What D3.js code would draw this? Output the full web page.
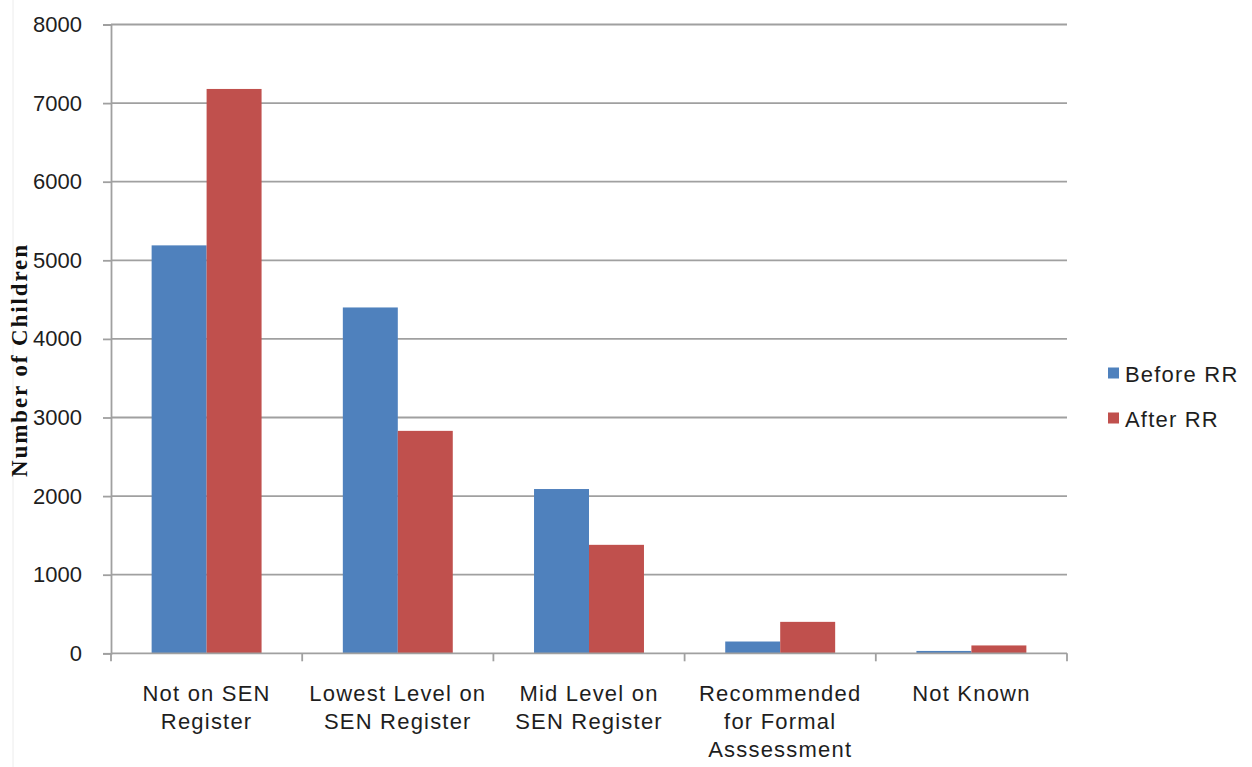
<!DOCTYPE html>
<html>
<head>
<meta charset="utf-8">
<script src="https://cdn.jsdelivr.net/npm/d3@7"></script>
<style>
  html, body { margin: 0; padding: 0; background: #fff; }
  svg { display: block; }
  text { font-family: "Liberation Sans", Arial, sans-serif; fill: #1e1e1e; }
</style>
</head>
<body>
<svg id="chart" width="1252" height="767"></svg>
<script>
// Children by SEN status, before and after Reading Recovery
const categories = [
  "Not on SEN Register",
  "Lowest Level on SEN Register",
  "Mid Level on SEN Register",
  "Recommended for Formal Asssessment",
  "Not Known"
];
const categoryLines = [
  ["Not on SEN", "Register"],
  ["Lowest Level on", "SEN Register"],
  ["Mid Level on", "SEN Register"],
  ["Recommended", "for Formal", "Asssessment"],
  ["Not Known"]
];
const seriesNames = ["Before RR", "After RR"];
const beforeRR = [5190, 4400, 2090, 150, 30];
const afterRR = [7180, 2830, 1380, 400, 100];
const seriesColors = ["#4f81bd", "#c0504d"];
const yTicks = [0, 1000, 2000, 3000, 4000, 5000, 6000, 7000, 8000];
const yTitle = "Number of Children";

const svg = d3.select("#chart");
const plot = { left: 111, right: 1067, top: 24.5, bottom: 653.3 };
const gridColor = "#a0a0a0";

const y = d3.scaleLinear().domain([0, 8000]).range([plot.bottom, plot.top]);
const x = d3.scaleBand()
  .domain(categories)
  .range([plot.left, plot.right])
  .paddingInner(0.425)
  .paddingOuter(0.2125);
const xs = d3.scaleBand().domain(seriesNames).range([0, x.bandwidth()]);

// faint frame edge on the left
svg.append("line")
  .attr("x1", 13).attr("x2", 13).attr("y1", 0).attr("y2", 767)
  .attr("stroke", "#ececec").attr("stroke-width", 1);

// horizontal gridlines
svg.append("g")
  .selectAll("line")
  .data(yTicks.filter(d => d > 0))
  .join("line")
  .attr("x1", plot.left).attr("x2", plot.right)
  .attr("y1", d => y(d)).attr("y2", d => y(d))
  .attr("stroke", gridColor).attr("stroke-width", 1.8);

// y axis
const yAxis = d3.axisLeft(y).tickValues(yTicks).tickSize(8).tickPadding(21)
  .tickFormat(d3.format("d"));
const gy = svg.append("g").attr("transform", `translate(${plot.left},0)`).call(yAxis);
gy.select(".domain").attr("stroke", gridColor).attr("stroke-width", 1.8);
gy.selectAll(".tick line").attr("stroke", gridColor).attr("stroke-width", 1.8);
gy.selectAll(".tick text")
  .attr("font-size", "22px")
  .attr("fill", "#1e1e1e")
  .attr("font-family", "'Liberation Sans', Arial, sans-serif");

// bars
const rows = categories.map((c, i) => ({ cat: c, values: [beforeRR[i], afterRR[i]] }));
svg.append("g")
  .selectAll("g")
  .data(rows)
  .join("g")
  .attr("transform", d => `translate(${x(d.cat)},0)`)
  .selectAll("rect")
  .data(d => d.values.map((v, j) => ({ name: seriesNames[j], value: v, color: seriesColors[j] })))
  .join("rect")
  .attr("x", d => xs(d.name))
  .attr("width", xs.bandwidth())
  .attr("y", d => y(d.value))
  .attr("height", d => y(0) - y(d.value))
  .attr("fill", d => d.color);

// x axis line and category boundary ticks
const step = x.step();
const boundaries = categories.map(c => x(c) + x.bandwidth() / 2 - step / 2)
  .concat([x(categories[categories.length - 1]) + x.bandwidth() / 2 + step / 2]);
svg.append("line")
  .attr("x1", plot.left).attr("x2", plot.right)
  .attr("y1", y(0)).attr("y2", y(0))
  .attr("stroke", gridColor).attr("stroke-width", 1.8);
svg.append("g")
  .selectAll("line")
  .data(boundaries)
  .join("line")
  .attr("x1", d => d).attr("x2", d => d)
  .attr("y1", y(0)).attr("y2", y(0) + 8)
  .attr("stroke", gridColor).attr("stroke-width", 1.8);

// category labels
svg.append("g")
  .selectAll("text")
  .data(categories)
  .join("text")
  .attr("text-anchor", "middle")
  .attr("font-size", "22px")
  .attr("letter-spacing", "1.2px")
  .attr("transform", (c) => `translate(${x(c) + x.bandwidth() / 2},701)`)
  .selectAll("tspan")
  .data((c, i) => categoryLines[i])
  .join("tspan")
  .attr("x", 0)
  .attr("y", (d, k) => k * 28)
  .text(d => d);

// y axis title
svg.append("text")
  .attr("transform", "translate(27,361) rotate(-90)")
  .attr("text-anchor", "middle")
  .attr("font-weight", "bold")
  .attr("font-size", "23px")
  .attr("textLength", 232)
  .attr("lengthAdjust", "spacing")
  .style("font-family", "'Liberation Serif', 'Times New Roman', serif")
  .style("fill", "#111")
  .text(yTitle);

// legend
const legend = svg.append("g").attr("transform", "translate(1108,373)");
const items = legend.selectAll("g")
  .data(seriesNames)
  .join("g")
  .attr("transform", (d, i) => `translate(0,${i * 45})`);
items.append("rect")
  .attr("x", 0).attr("y", -5.5).attr("width", 11).attr("height", 11)
  .attr("fill", (d, i) => seriesColors[i]);
items.append("text")
  .attr("x", 17).attr("y", 8.5)
  .attr("font-size", "22px")
  .attr("letter-spacing", "1.2px")
  .text(d => d);
</script>
</body>
</html>
